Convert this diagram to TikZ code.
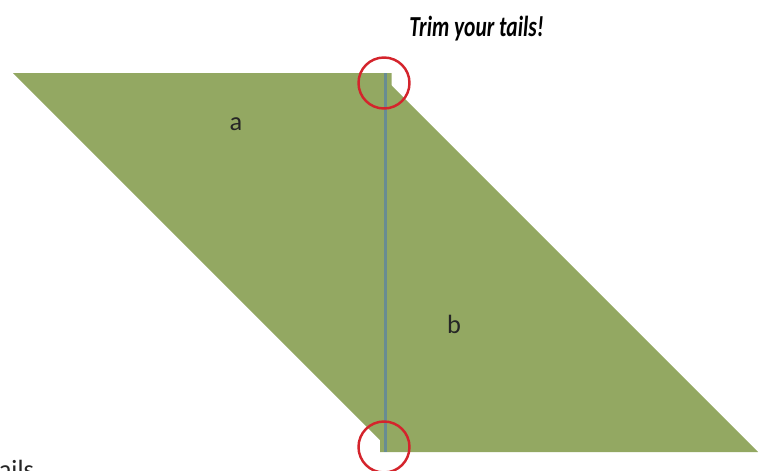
\documentclass[tikz,border=0pt]{standalone}
\usepackage{fontspec}
\setmainfont{Carlito}
\definecolor{patchgreen}{RGB}{147,168,98}
\definecolor{seamblue}{RGB}{104,140,146}
\definecolor{ringred}{RGB}{212,36,44}
\definecolor{inkgrey}{RGB}{38,38,38}
\tikzset{
  patch/.style={fill=patchgreen,draw=none},
  seam/.style={draw=seamblue,line width=1.7pt},
  ring/.style={draw=ringred,line width=1.4pt},
  piecelabel/.style={font=\fontsize{15}{18}\selectfont,text=inkgrey,inner sep=0pt}
}
\begin{document}
\begin{tikzpicture}[x=0.02cm,y=-0.02cm,line cap=round,line join=round]
  \useasboundingbox (0,0) rectangle (767,470);
  \clip (0,0) rectangle (767,470);
  % the two halves, overlapping at the seam
  \coordinate (TL) at (13,73);
  \coordinate (TR) at (391.5,73);
  \coordinate (TB) at (391.5,451.5);
  \coordinate (BT) at (380,74);
  \coordinate (BL) at (380,452);
  \coordinate (BR) at (758,452);
  \fill[patch] (TL) -- (TR) -- (TB) -- cycle;
  \fill[patch] (BT) -- (BL) -- (BR) -- cycle;
  % seam
  \coordinate (S1) at (385.5,73);
  \coordinate (S2) at (385.5,452);
  \draw[seam,line cap=butt] (S1) -- (S2);
  \node[piecelabel] (la) at (236,124) {a};
  \node[piecelabel] (lb) at (454,324) {b};
  % tails
  \draw[ring] (384,83) circle[radius=25.5];
  \draw[ring] (384,447) circle[radius=25.5];
  \node[anchor=base west,inner sep=0pt] (note) at (409,36)
    {\scalebox{0.74}[1]{\fontsize{16.5}{19}\selectfont\itshape\bfseries Trim your tails!}};
  \node[piecelabel,anchor=base west] (cut) at (-10,478) {tails};
\end{tikzpicture}
\end{document}
